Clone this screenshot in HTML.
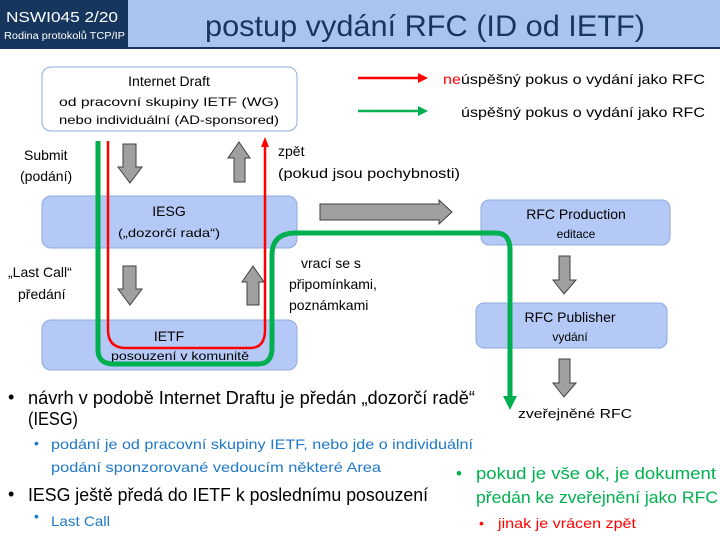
<!DOCTYPE html>
<html><head><meta charset="utf-8"><style>
body{margin:0;width:720px;height:540px;overflow:hidden;background:#fff}
svg text{font-family:"Liberation Sans",sans-serif}
</style></head><body>
<svg width="720" height="540" xmlns="http://www.w3.org/2000/svg">
<defs>
<marker id="rh" markerWidth="8" markerHeight="8" refX="4" refY="7" orient="auto" markerUnits="userSpaceOnUse" viewBox="0 0 8 8"></marker>
</defs>
<rect x="0" y="0" width="720" height="48" fill="#a9c5ee"/>
<rect x="0" y="0" width="128" height="48" fill="#17365d"/>
<rect x="0" y="47" width="720" height="2" fill="#17365d"/>
<text x="6" y="22" fill="#fff" font-size="15" textLength="112" lengthAdjust="spacingAndGlyphs">NSWI045   2/20</text>
<text x="4" y="39" fill="#fff" font-size="10" textLength="121" lengthAdjust="spacingAndGlyphs">Rodina protokolů TCP/IP</text>
<text x="205" y="36" fill="#17365d" font-size="30" textLength="440" lengthAdjust="spacingAndGlyphs">postup vydání RFC (ID od IETF)</text>

<!-- boxes -->
<rect x="42" y="67" width="255" height="64" rx="9" fill="#fff" stroke="#8eaadb"/>
<text x="169" y="86" font-size="14" text-anchor="middle">Internet Draft</text>
<text x="169" y="106" font-size="12" text-anchor="middle" textLength="220" lengthAdjust="spacingAndGlyphs">od pracovní skupiny IETF (WG)</text>
<text x="169" y="124" font-size="12" text-anchor="middle" textLength="220" lengthAdjust="spacingAndGlyphs">nebo individuální (AD-sponsored)</text>

<rect x="42" y="196" width="255" height="52" rx="9" fill="#b4c9f5" stroke="#8eaadb"/>
<text x="169" y="216" font-size="14" text-anchor="middle">IESG</text>
<text x="169" y="237" font-size="12" text-anchor="middle" textLength="102" lengthAdjust="spacingAndGlyphs">(„dozorčí rada“)</text>

<rect x="42" y="320" width="255" height="50" rx="9" fill="#b4c9f5" stroke="#8eaadb"/>
<text x="169" y="341" font-size="14" text-anchor="middle">IETF</text>
<text x="180" y="360" font-size="12" text-anchor="middle" textLength="138" lengthAdjust="spacingAndGlyphs">posouzení v komunitě</text>

<rect x="481" y="200" width="189" height="45" rx="8" fill="#b4c9f5" stroke="#8eaadb"/>
<text x="576" y="219" font-size="14" text-anchor="middle">RFC Production</text>
<text x="576" y="238" font-size="12" text-anchor="middle">editace</text>
<rect x="476" y="303" width="191" height="45" rx="8" fill="#b4c9f5" stroke="#8eaadb"/>
<text x="570" y="322" font-size="14" text-anchor="middle">RFC Publisher</text>
<text x="570" y="341" font-size="12" text-anchor="middle">vydání</text>
<text x="518" y="418" font-size="13" textLength="114" lengthAdjust="spacingAndGlyphs">zveřejněné RFC</text>

<!-- gray arrows -->
<g fill="#a0a0a0" stroke="#404040" stroke-width="1">
<polygon points="123,144 136,144 136,167 142,167 130,183 118,167 123,167"/>
<polygon points="234,182 245,182 245,158 250,158 239,142 228,158 234,158"/>
<polygon points="123,266 136,266 136,289 142,289 130,305 118,289 123,289"/>
<polygon points="247,305 259,305 259,282 264,282 253,266 242,282 247,282"/>
<polygon points="320,204 439,204 439,200 452,212 439,224 439,220 320,220"/>
<polygon points="559,256 570,256 570,280 576,280 564,294 553,280 559,280"/>
<polygon points="559,359 570,359 570,383 576,383 564,397 553,383 559,383"/>
</g>

<!-- red path -->
<path d="M108,141 V330 Q108,348 126,348 H250 Q265,348 265,330 V146" fill="none" stroke="#ff0000" stroke-width="2.5"/>
<polygon points="265,137 261,147 269,147" fill="#ff0000"/>
<!-- green path -->
<path d="M98,141 V350 Q98,364 114,364 H258 Q272,364 272,348 V255 Q272,233 296,233 H496 Q510,233 510,250 V398" fill="none" stroke="#00b050" stroke-width="5"/>
<polygon points="503,396 517,396 510,410" fill="#00b050"/>

<!-- labels -->
<text x="24" y="160" font-size="14">Submit</text>
<text x="20" y="181" font-size="14">(podání)</text>
<text x="8" y="277" font-size="14">„Last Call“</text>
<text x="18" y="299" font-size="14">předání</text>
<text x="278" y="156" font-size="14">zpět</text>
<text x="278" y="178" font-size="14" textLength="182" lengthAdjust="spacingAndGlyphs">(pokud jsou pochybnosti)</text>
<text x="301" y="268" font-size="14">vrací se s</text>
<text x="289" y="289" font-size="14">připomínkami,</text>
<text x="289" y="310" font-size="14">poznámkami</text>

<!-- legend -->
<line x1="358" y1="78" x2="421" y2="78" stroke="#ff0000" stroke-width="2.5"/>
<polygon points="428,78 418,73 418,83" fill="#ff0000"/>
<line x1="358" y1="111" x2="421" y2="111" stroke="#00b050" stroke-width="2.5"/>
<polygon points="428,111 418,106 418,116" fill="#00b050"/>
<text x="443" y="84" font-size="14" textLength="262" lengthAdjust="spacingAndGlyphs"><tspan fill="#ff0000">ne</tspan>úspěšný pokus o vydání  jako RFC</text>
<text x="461" y="117" font-size="14" textLength="244" lengthAdjust="spacingAndGlyphs">úspěšný pokus o vydání  jako RFC</text>

<!-- bullets -->
<g font-size="18">
<text x="8" y="403">•</text>
<text x="28" y="404" textLength="447" lengthAdjust="spacingAndGlyphs">návrh v podobě Internet Draftu je předán „dozorčí radě“</text>
<text x="28" y="425" textLength="50" lengthAdjust="spacingAndGlyphs">(IESG)</text>
<text x="8" y="500">•</text>
<text x="28" y="501" textLength="400" lengthAdjust="spacingAndGlyphs">IESG ještě předá do IETF k poslednímu posouzení</text>
</g>
<g font-size="14" fill="#1f78c8">
<text x="34" y="448">•</text>
<text x="51" y="449" textLength="422" lengthAdjust="spacingAndGlyphs">podání je od pracovní skupiny  IETF, nebo jde o individuální</text>
<text x="51" y="472" textLength="330" lengthAdjust="spacingAndGlyphs">podání sponzorované vedoucím některé Area</text>
<text x="34" y="521">•</text>
<text x="51" y="526" textLength="59" lengthAdjust="spacingAndGlyphs">Last Call</text>
</g>
<g font-size="17" fill="#00b050">
<text x="456" y="479">•</text>
<text x="476" y="479" textLength="240" lengthAdjust="spacingAndGlyphs">pokud je vše ok, je dokument</text>
<text x="476" y="503" textLength="242" lengthAdjust="spacingAndGlyphs">předán ke zveřejnění jako RFC</text>
</g>
<g font-size="14" fill="#ff0000">
<text x="479" y="528">•</text>
<text x="498" y="528" textLength="138" lengthAdjust="spacingAndGlyphs">jinak je vrácen zpět</text>
</g>
</svg>
</body></html>
